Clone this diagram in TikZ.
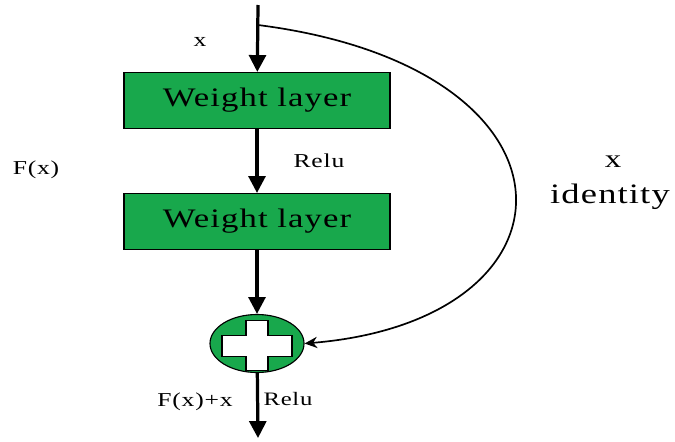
\documentclass[tikz,border=0pt]{standalone}
\usepackage{fontspec}
\setmainfont{Liberation Serif}
\newfontfamily\widefont[FakeStretch=1.3, LetterSpace=4]{Liberation Serif}
\usepackage{tikz}
\usetikzlibrary{shapes.geometric, arrows.meta, positioning, calc}
\definecolor{layergreen}{RGB}{24,168,76}

\begin{document}
\begin{tikzpicture}[x=0.025cm, y=-0.025cm,
		layer/.style={draw, thick, fill=layergreen, minimum width=6.65cm, minimum height=1.4cm, font=\widefont\fontsize{19}{21}\selectfont},
		addnode/.style={ellipse, draw, thick, fill=layergreen, minimum width=2.35cm, minimum height=1.45cm},
		flow/.style={line width=2.3pt, -{Triangle[length=12pt, width=12pt]}},
		skip/.style={line width=1.2pt, -{Stealth[length=9pt, width=8pt]}},
		lbl/.style={font=\widefont\fontsize{14}{15}\selectfont}
	]
		\useasboundingbox (0,0) rectangle (675,441);
		
		% Input and branch point
		\coordinate (in) at (258,5);
		\coordinate (branch) at (258,25);
		\coordinate (out) at (258,438);
		
		% Weight layers
		\node[layer] (w1) at (257,100.5) {Weight layer};
		\node[layer] (w2) at (257,221.5) {Weight layer};
		
		% Addition
		\node[addnode] (add) at (257,343.5) {};
		\filldraw[fill=white, draw=black, line width=0.8pt]
		($(add.center)+(-11,-23)$) -- ($(add.center)+(11,-23)$) -- ($(add.center)+(11,-8)$)
		-- ($(add.center)+(35,-8)$) -- ($(add.center)+(35,13)$) -- ($(add.center)+(11,13)$)
		-- ($(add.center)+(11,27)$) -- ($(add.center)+(-11,27)$) -- ($(add.center)+(-11,13)$)
		-- ($(add.center)+(-35,13)$) -- ($(add.center)+(-35,-8)$) -- ($(add.center)+(-11,-8)$) -- cycle;
		
		% Main path
		\draw[flow] (in) -- (w1);
		\draw[flow] (w1) -- (w2);
		\draw[flow] (w2) -- (add);
		\draw[flow] (add) -- (out);
		
		% Identity shortcut
		\draw[skip] (branch) .. controls (595,68) and (590,320) .. (add.east);
		
		% Labels
		\node[lbl] (xin) at (200,42) {x};
		\node[lbl] (relu1) at (319,161) {Relu};
		\node[lbl] (fx) at (36,170) {F(x)};
		\node[font=\widefont\fontsize{18}{19}\selectfont] (xid) at (613,162) {x};
		\node[font=\widefont\fontsize{20}{22}\selectfont] (ident) at (610,197) {identity};
		\node[lbl] (fxx) at (195,402) {F(x)+x};
		\node[font=\widefont\fontsize{13.5}{15}\selectfont] (relu2) at (288,399) {Relu};
		
	\end{tikzpicture}
\end{document}
